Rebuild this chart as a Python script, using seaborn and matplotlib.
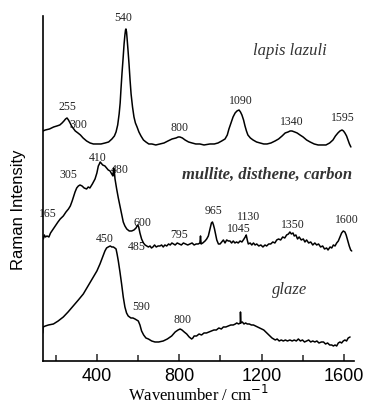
import matplotlib
matplotlib.use("Agg")
import matplotlib.pyplot as plt
from matplotlib import font_manager
import seaborn as sns
import pandas as pd
from matplotlib.ticker import FixedLocator

# ---- data (wavenumber / cm-1, intensity in arbitrary units) ----
lapis_w = [138, 150, 170, 190, 206, 220, 231, 240, 248, 255, 262, 270, 277, 284, 295, 308,
           320, 333, 350, 367, 383, 400, 420, 440, 457, 473, 485, 493, 501, 508, 513, 517,
           522, 527, 532, 536, 539, 541, 544, 546, 551, 556, 561, 566, 573, 580, 587, 595,
           604, 614, 626, 638, 652, 667, 686, 706, 726, 745, 765, 784, 795, 803, 815, 828,
           845, 862, 880, 900, 920, 949, 970, 988, 1006, 1022, 1033, 1041, 1051, 1061, 1071,
           1080, 1090, 1097, 1104, 1112, 1119, 1126, 1133, 1145, 1158, 1175, 1192, 1210,
           1226, 1245, 1265, 1282, 1299, 1314, 1328, 1338, 1347, 1360, 1372, 1386, 1401,
           1418, 1435, 1455, 1474, 1494, 1512, 1530, 1546, 1558, 1570, 1580, 1590, 1597,
           1604, 1612, 1619, 1626, 1633]
lapis_i = [230, 231, 232, 234, 235, 236, 238, 240, 242, 243, 241, 238, 235, 233, 230, 228,
           226, 223, 220, 218, 217, 217, 217, 218, 219, 222, 225, 229, 236, 247, 258, 272,
           288, 302, 317, 326, 331, 332, 329, 324, 311, 297, 281, 267, 254, 244, 238, 234,
           229, 225, 221, 219, 217, 217, 216, 217, 218, 220, 222, 223, 224, 224, 223, 221,
           219, 218, 217, 217, 216, 217, 217, 218, 220, 222, 226, 232, 238, 244, 248,
           250, 251, 249, 246, 241, 235, 230, 226, 223, 221, 219, 218, 217,
           217, 218, 220, 222, 225, 228, 229, 230, 230, 229, 228, 226, 224,
           221, 219, 217, 216, 216, 216, 218, 221, 225, 228, 230, 231, 230,
           228, 225, 221, 217, 214]

mullite_w = [140, 145, 150, 158, 167, 175, 188, 198, 211, 222, 237, 250, 262, 271, 280, 288,
             294, 302, 310, 318, 328, 338, 350, 358, 366, 378, 391, 400, 407, 412, 416, 420,
             428, 439, 447, 455, 464, 472, 478, 481, 484, 488, 496, 504, 512, 520, 528, 536,
             545, 557, 569, 580, 590, 598, 603, 609, 617, 626, 634, 642, 650, 658, 665, 672,
             680, 688, 697, 706, 714, 722, 730, 739, 748, 756, 764, 772, 780, 790, 800, 810,
             820, 830, 841, 852, 862, 872, 882, 892, 900, 903, 906, 914, 925, 933, 941, 949,
             956, 961, 966, 971, 976, 982, 990, 998, 1006, 1014, 1022, 1030, 1038, 1046,
             1054, 1062, 1070, 1078, 1086, 1095, 1104, 1114, 1120, 1125, 1130, 1135, 1144,
             1152, 1160, 1168, 1176, 1186, 1196, 1206, 1216, 1224, 1234, 1244, 1254, 1264,
             1273, 1282, 1292, 1302, 1312, 1321, 1330, 1337, 1344, 1352, 1358, 1366, 1374,
             1382, 1392, 1402, 1410, 1418, 1428, 1438, 1448, 1458, 1467, 1476, 1486, 1496,
             1505, 1515, 1522, 1532, 1540, 1548, 1556, 1564, 1572, 1580, 1588, 1596, 1604,
             1610, 1617, 1625, 1632, 1637]
mullite_i = [122, 126, 124, 125, 124, 128, 132, 135, 139, 142, 145, 149, 152, 155, 160, 165,
             169, 173, 175, 176, 175, 173, 172, 174, 173, 177, 182, 188, 195, 197, 199, 198,
             196, 195, 193, 191, 190, 187, 185, 193, 191, 182, 172, 163, 155, 147, 139, 135,
             132, 130, 130, 131, 133, 136, 134, 128, 122, 118, 116, 115, 114, 115, 113, 114,
             116, 114, 115, 115, 116, 114, 116, 115, 117, 116, 118, 117, 116, 118, 117, 116,
             118, 117, 116, 117, 118, 116, 117, 117, 118, 125, 117, 118, 120, 122, 125, 132,
             138, 139, 136, 132, 127, 121, 117, 117, 119, 121, 118, 121, 120, 120,
             118, 120, 118, 119, 118, 120, 119, 122, 124, 126, 121, 117, 118,
             116, 118, 116, 117, 115, 116, 114, 116, 115, 117, 117, 119, 118,
             121, 122, 121, 124, 123, 126, 127, 129, 127, 128, 125, 126, 122,
             124, 121, 122, 119, 121, 118, 119, 116, 118, 116, 117, 114, 115,
             112, 113, 111, 114, 113, 116, 115, 118, 120, 124, 128, 130, 129,
             126, 121, 115, 111, 110]

glaze_w = [137, 139, 150, 165, 189, 212, 237, 260, 285, 310, 334, 360, 383, 400, 415, 428,
           439, 447, 455, 465, 472, 480, 487, 493, 498, 504, 512, 520, 528, 536, 544, 552,
           565, 575, 585, 593, 601, 609, 617, 627, 638, 650, 666, 682, 700, 722, 742, 763,
           780, 794, 804, 813, 824, 836, 848, 860, 866, 872, 884, 896, 908, 920, 932, 944,
           956, 968, 980, 992, 1004, 1014, 1026, 1038, 1050, 1062, 1072, 1079, 1088, 1096,
           1097, 1099, 1106, 1114, 1122, 1130, 1140, 1150, 1160, 1170, 1180, 1190, 1200,
           1210, 1220, 1230, 1240, 1250, 1258, 1266, 1275, 1285, 1295, 1305, 1315, 1325,
           1337, 1348, 1358, 1368, 1378, 1388, 1398, 1408, 1418, 1428, 1438, 1448, 1458,
           1468, 1478, 1490, 1500, 1510, 1520, 1530, 1540, 1548, 1556, 1564, 1572, 1580,
           1588, 1596, 1604, 1612, 1620, 1629]
glaze_i = [28, 34, 35, 36, 37, 40, 44, 49, 55, 61, 67, 76, 84, 90, 97, 104,
           110, 113, 114, 115, 114, 114, 113, 112, 107, 100, 89, 77, 64, 54, 48, 45,
           43, 43, 42, 41, 40, 36, 30, 26, 23, 22, 20, 19, 19, 20, 22, 25,
           29, 31, 32, 31, 29, 27, 24, 22, 23, 25, 25, 27, 26, 28, 28, 29,
           30, 31, 31, 33, 32, 34, 34, 35, 36, 36, 37, 38, 37, 38,
           49, 38, 39, 37, 38, 37, 37, 36, 36, 35, 34, 33, 32,
           31, 29, 27, 25, 23, 22, 21, 22, 20, 21, 20, 21, 20,
           21, 20, 21, 20, 22, 20, 21, 19, 20, 21, 19, 20, 19,
           20, 18, 19, 19, 17, 18, 16, 16, 15, 16, 15, 18, 19,
           18, 20, 21, 20, 23, 24]

# peak labels: (text, wavenumber position, intensity position)
lapis_labels = [("255", 255, 255), ("300", 310, 237), ("540", 530, 344), ("800", 800, 234),
                ("1090", 1100, 261), ("1340", 1345, 240), ("1595", 1595, 244)]
mullite_labels = [("305", 260, 187), ("410", 405, 204), ("480", 510, 192), ("165", 160, 148),
                  ("600", 620, 139), ("795", 800, 127), ("965", 965, 151), ("1045", 1090, 133),
                  ("1130", 1135, 145), ("1350", 1350, 137), ("1600", 1615, 142)]
glaze_labels = [("450", 440, 123), ("485", 595, 115), ("590", 615, 55), ("800", 815, 42)]

major_ticks = [400, 800, 1200, 1600]
minor_ticks = [200, 600, 1000, 1400]

sns.set_theme(style="white")
plt.rcParams["font.family"] = ["Liberation Serif", "DejaVu Serif"]

names = {f.name for f in font_manager.fontManager.ttflist}
if "Liberation Sans Narrow" in names:
    ylab_family, ylab_size = ["Liberation Sans Narrow", "DejaVu Sans"], 14
else:
    ylab_family, ylab_size = ["Liberation Sans", "DejaVu Sans"], 12

fig = plt.figure(figsize=(3.73, 4.06), dpi=100)
ax = fig.add_axes([0.1145, 0.1084, 0.8345, 0.8498])

for w, i in [(lapis_w, lapis_i), (mullite_w, mullite_i), (glaze_w, glaze_i)]:
    df = pd.DataFrame({"w": w, "i": i})
    sns.lineplot(data=df, x="w", y="i", ax=ax, color="black", linewidth=1.1,
                 estimator=None, sort=True)

ax.set_xlim(137, 1648)
ax.set_ylim(0, 345)

for txt, x, y in lapis_labels + mullite_labels + glaze_labels:
    ax.text(x, y, txt, fontsize=8.5, ha="center", va="center", color="#222222",
            clip_on=False, zorder=1)

ax.text(1337, 311, "lapis lazuli", fontsize=12, style="italic", ha="center",
        va="center", color="#333333")
ax.text(1225, 187, "mullite, disthene, carbon", fontsize=12, style="italic",
        weight="bold", ha="center", va="center", color="#333333")
ax.text(1337, 72, "glaze", fontsize=12, style="italic", ha="center", va="center",
        color="#333333")

for s in ["top", "right"]:
    ax.spines[s].set_visible(False)
for s in ["left", "bottom"]:
    ax.spines[s].set_color("black")
    ax.spines[s].set_linewidth(1.2)

ax.set_yticks([])
ax.xaxis.set_major_locator(FixedLocator(major_ticks))
ax.xaxis.set_minor_locator(FixedLocator(minor_ticks))
ax.tick_params(axis="x", which="major", direction="in", length=5, width=1.1,
               bottom=True, pad=4, labelsize=13, labelcolor="black")
ax.tick_params(axis="x", which="minor", direction="in", length=4, width=1.1, bottom=True)
ax.set_xticklabels([str(t) for t in major_ticks], family=["Liberation Sans", "DejaVu Sans"])

ax.set_xlabel("Wavenumber / cm$^{-1}$", fontsize=12, labelpad=0, color="black")
ax.set_ylabel("Raman Intensity", fontsize=ylab_size, color="black", family=ylab_family)
ax.yaxis.set_label_coords(-0.055, 0.44)

fig.savefig("out.png", dpi=100)
